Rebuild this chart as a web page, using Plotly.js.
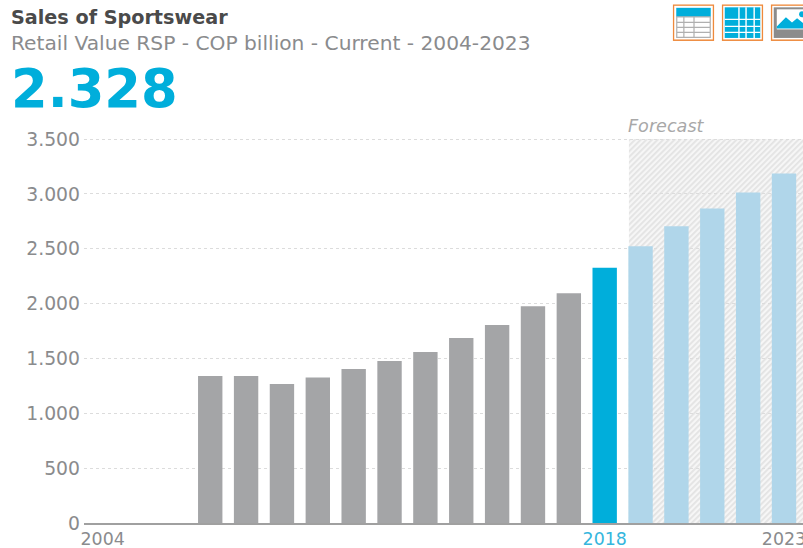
<!DOCTYPE html>
<html>
<head>
<meta charset="utf-8">
<script src="https://cdn.plot.ly/plotly-3.0.1.min.js"></script>
<style>html,body{margin:0;padding:0;background:#fff;overflow:hidden}</style>
</head>
<body>
<div id="chart" style="width:803px;height:548px"></div>
<script>
// Sportswear retail value, COP billion
const historyYears = [2007,2008,2009,2010,2011,2012,2013,2014,2015,2016,2017];
const historyValues = [1340,1340,1268,1327,1405,1477,1559,1686,1805,1977,2095];
const currentYears = [2018];
const currentValues = [2328];
const forecastYears = [2019,2020,2021,2022,2023];
const forecastValues = [2523,2705,2868,3014,3186];
const yearTicks = [2004,2018,2023];
const yearLabels = ['2004','<span style="color:#35b6dd">2018</span>','2023'];
const valueTicks = [0,500,1000,1500,2000,2500,3000,3500];

const FONT = '"DejaVu Sans", Inter, sans-serif';
const GREY = '#8a8b8d';
const PLOT_TOP = 137.9;
const PLOT_H = 385.6;
const PLOT_L = 84;
const PLOT_W = 719;

function svgUri(body, w, h) {
  const svg = `<svg xmlns="http://www.w3.org/2000/svg" width="${w}" height="${h}" viewBox="0 0 ${w} ${h}">${body}</svg>`;
  return 'data:image/svg+xml;base64,' + btoa(svg);
}

// Diagonal hatch behind the forecast years
const hatch = svgUri(
  '<defs><pattern id="h" width="4" height="4" patternUnits="userSpaceOnUse" patternTransform="rotate(-45)">' +
  '<rect width="4" height="4" fill="#f6f6f6"/><rect width="4" height="1.8" fill="#e3e3e3"/></pattern></defs>' +
  '<rect width="175" height="385" fill="url(#h)"/>', 175, 385);

// Toolbar buttons: table, grid, image
const frame = '<rect x="0.75" y="0.75" width="39.5" height="35" fill="#fff" stroke="#ee8a3c" stroke-width="1.5"/>';
const iconTable = svgUri(frame +
  '<rect x="3.5" y="3.5" width="34" height="9" fill="#00aedb"/>' +
  '<path d="M4 12.5H37V33H4ZM4 18H37M4 23H37M4 28H37M11 12.5V33M21 12.5V33" fill="none" stroke="#b0b0b0" stroke-width="1.2"/>', 41, 36.5);
const iconGrid = svgUri(frame +
  '<rect x="3" y="3" width="35" height="30.5" fill="#00aedb"/>' +
  '<path d="M17 3V34M24 3V34M32 3V34M3 15H38M3 22H38M3 28H38" stroke="#fff" stroke-width="1.4"/>', 41, 36.5);
const iconImage = svgUri(frame +
  '<rect x="3" y="3" width="35" height="30.5" fill="#8c8c8c"/>' +
  '<rect x="6" y="5" width="30" height="20" fill="#fff"/>' +
  '<path d="M6 22L15 13L21 18L26 14L36 22V24H6Z" fill="#00aedb"/><circle cx="31" cy="10" r="3" fill="#00aedb"/>', 41, 36.5);

const pxX = x => (x - PLOT_L) / PLOT_W;
const pxY = y => 1 - (y - PLOT_TOP) / PLOT_H;
const toolbar = [[iconTable, 672.7], [iconGrid, 721.7], [iconImage, 770.7]].map(([source, left]) => ({
  source, xref: 'paper', yref: 'paper', xanchor: 'left', yanchor: 'top',
  x: pxX(left), y: pxY(4), sizex: 41.6 / PLOT_W, sizey: 36.7 / PLOT_H,
  sizing: 'stretch', layer: 'above'
}));

function barTrace(x, y, color) {
  return { type: 'bar', x, y, width: 0.68, marker: { color, line: { width: 0 } }, hoverinfo: 'x+y', showlegend: false };
}

const textNote = (text, left, top, size, color) => ({
  text, xref: 'paper', yref: 'paper', x: pxX(left), y: pxY(top),
  xanchor: 'left', yanchor: 'middle', showarrow: false,
  font: { family: FONT, size, color }
});

Plotly.newPlot('chart', [
  barTrace(historyYears, historyValues, '#a4a5a7'),
  barTrace(currentYears, currentValues, '#00aedb'),
  barTrace(forecastYears, forecastValues, '#b0d6ea')
], {
  width: 803, height: 548,
  margin: { l: PLOT_L, r: 0, t: PLOT_TOP, b: 24.5, pad: 0 },
  paper_bgcolor: '#fff', plot_bgcolor: '#fff',
  separators: ',.',
  barmode: 'overlay',
  title: {
    text: '<b>Sales of Sportswear</b>', xref: 'container', yref: 'container',
    x: 11 / 803, xanchor: 'left', y: 1 - 17 / 548, yanchor: 'middle',
    font: { family: FONT, size: 19.2, color: '#4a4a4a' }
  },
  xaxis: {
    type: 'linear', range: [2003.48, 2023.53],
    tickmode: 'array', tickvals: yearTicks, ticktext: yearLabels, ticks: '',
    ticklabeloverflow: 'allow', ticklabelstandoff: -1,
    tickfont: { family: FONT, size: 17.4, color: GREY },
    showgrid: false, zeroline: false,
    showline: true, linecolor: '#a0a0a0', linewidth: 2
  },
  yaxis: {
    range: [0, 3510], tickmode: 'array', tickvals: valueTicks, tickformat: ',d',
    ticks: '', ticklabelstandoff: 3,
    tickfont: { family: FONT, size: 18.8, color: GREY },
    showgrid: true, gridcolor: '#dcdcdc', griddash: 'dot', gridwidth: 1,
    zeroline: false, showline: false
  },
  images: [{
    source: hatch, xref: 'x', yref: 'y', x: 2018.67, y: 3500, sizex: 4.86, sizey: 3500,
    xanchor: 'left', yanchor: 'top', sizing: 'stretch', layer: 'below'
  }].concat(toolbar),
  annotations: [
    textNote('Retail Value RSP - COP billion - Current - 2004-2023', 9, 43, 20.2, GREY),
    textNote('<b>2.328</b>', 9, 88, 52.7, '#00aedb'),
    textNote('<i>Forecast</i>', 626, 126, 17.6, '#a8a8a8')
  ]
}, { displayModeBar: false, responsive: false });
</script>
</body>
</html>
